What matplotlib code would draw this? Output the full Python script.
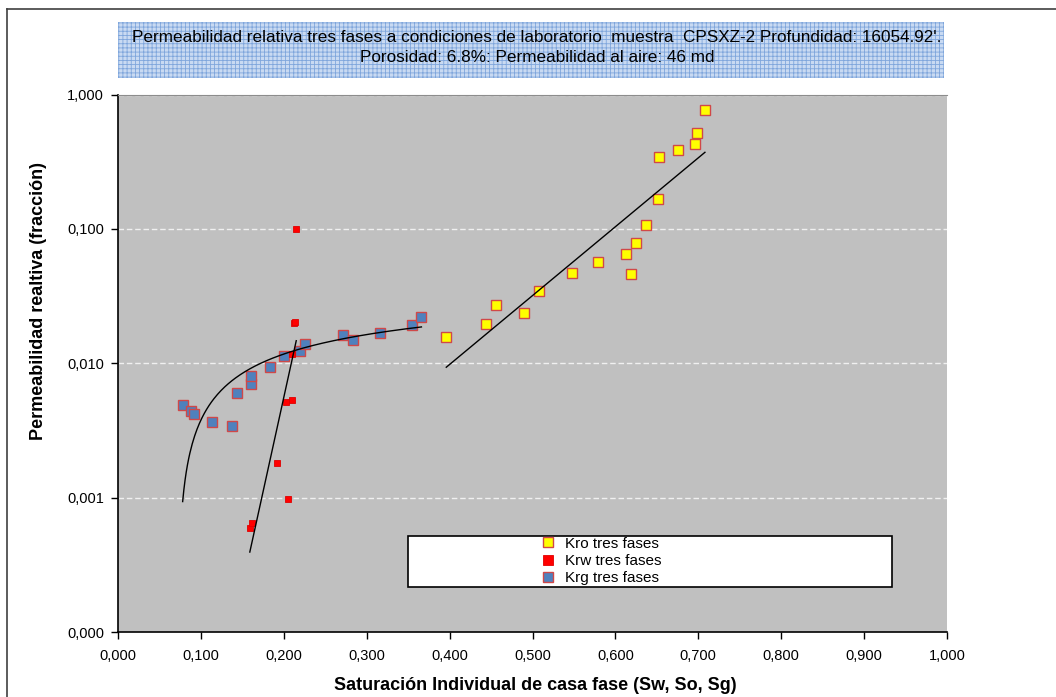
import numpy as np
import matplotlib
matplotlib.use("Agg")
import matplotlib.pyplot as plt
from matplotlib.patches import Rectangle
from matplotlib.lines import Line2D
from matplotlib.ticker import FuncFormatter, FixedLocator

plt.rcParams['font.family'] = ['Liberation Sans', 'DejaVu Sans']
plt.rcParams['hatch.linewidth'] = 0.6

# ----------------------------
# Data
# ----------------------------
# Kro (oil) - yellow
so = [0.396, 0.444, 0.456, 0.490, 0.508, 0.548, 0.579, 0.613, 0.619, 0.625,
      0.637, 0.651, 0.653, 0.676, 0.696, 0.699, 0.708]
kro = [0.0158, 0.0196, 0.0272, 0.0238, 0.0344, 0.0473, 0.0568, 0.0648, 0.0465, 0.0782,
       0.1076, 0.168, 0.341, 0.386, 0.427, 0.520, 0.768]

# Krw (water) - red
sw = [0.159, 0.162, 0.192, 0.205, 0.203, 0.210, 0.210, 0.212, 0.213, 0.215]
krw = [0.000594, 0.000647, 0.00181, 0.000975, 0.00516, 0.00535, 0.01175, 0.01986, 0.0202, 0.0993]

# Krg (gas) - blue
sg = [0.078, 0.088, 0.092, 0.113, 0.137, 0.143, 0.160, 0.160, 0.183, 0.200,
      0.220, 0.226, 0.272, 0.283, 0.316, 0.355, 0.366]
krg = [0.00491, 0.00445, 0.00418, 0.00368, 0.00342, 0.00605, 0.00703, 0.00805, 0.00935, 0.0114,
       0.0124, 0.0139, 0.0163, 0.0149, 0.0168, 0.0193, 0.0222]

x_ticks = [0.0, 0.1, 0.2, 0.3, 0.4, 0.5, 0.6, 0.7, 0.8, 0.9, 1.0]
y_ticks = [0.0001, 0.001, 0.01, 0.1, 1.0]

title_lines = ["Permeabilidad relativa tres fases a condiciones de laboratorio  muestra  CPSXZ-2 Profundidad: 16054.92'.",
               "Porosidad: 6.8%: Permeabilidad al aire: 46 md"]

W, H = 1056, 697
fig = plt.figure(figsize=(W / 100, H / 100), dpi=100)
fig.patch.set_facecolor('white')


def fx(px):
    return px / W


def fy(py):
    return 1 - py / H


# outer frame (only left and top visible in the picture)
fig.add_artist(Line2D([fx(7), fx(7)], [fy(9), 0], color='#404040', lw=1.2))
fig.add_artist(Line2D([fx(7), 1], [fy(9), fy(9)], color='#404040', lw=1.2))

# title box with hatched pattern
fig.add_artist(Rectangle((fx(118), fy(78)), fx(944) - fx(118), fy(21.5) - fy(78),
                         facecolor='#C9DAF2', edgecolor='#7FA6DC', lw=0, hatch='++++'))
fig.text(fx(537), fy(37), title_lines[0], ha='center', va='center', fontsize=12.3)
fig.text(fx(537), fy(58), title_lines[1], ha='center', va='center', fontsize=12.3)

ax = fig.add_axes([fx(118), fy(632.3), fx(947) - fx(118), fy(94.5) - fy(632.3)])
ax.set_facecolor('#C0C0C0')
ax.set_yscale('log')
ax.set_xlim(0, 1)
ax.set_ylim(1e-4, 1)

ax.xaxis.set_major_locator(FixedLocator(x_ticks))
ax.yaxis.set_major_locator(FixedLocator(y_ticks))
ax.yaxis.set_minor_locator(FixedLocator([]))
fmt = FuncFormatter(lambda v, p: f"{v:.3f}".replace('.', ','))
ax.xaxis.set_major_formatter(fmt)
ax.yaxis.set_major_formatter(fmt)
ax.tick_params(axis='both', which='major', direction='out', length=5, width=1,
               labelsize=10.5, colors='black')
ax.tick_params(axis='x', pad=7)
ax.tick_params(axis='y', pad=5)

ax.spines['right'].set_visible(False)
ax.spines['top'].set_color('#8C8C8C')
ax.spines['top'].set_linestyle((0, (3, 1)))
ax.spines['left'].set_linewidth(1.2)
ax.spines['bottom'].set_linewidth(1.2)

ax.yaxis.grid(True, which='major', color='#F0F0F0', linestyle=(0, (4, 2)), lw=1)
ax.xaxis.grid(False)
ax.set_axisbelow(True)

edge = '#D04848'
ax.plot(so, kro, ls='none', marker='s', ms=7.3, mfc='#FFFF00', mec=edge, mew=1, zorder=3)
ax.plot(sg, krg, ls='none', marker='s', ms=7.5, mfc='#4F81BD', mec=edge, mew=1, zorder=3)
ax.plot(sw, krw, ls='none', marker='s', ms=5, mfc='#FF0000', mec='#E00000', mew=0.6, zorder=4)

# trendlines (Excel style fits)
so_a, kro_a = np.array(so), np.array(kro)
c = np.polyfit(so_a, np.log(kro_a), 1)
xx = np.linspace(so_a.min(), so_a.max(), 100)
ax.plot(xx, np.exp(np.polyval(c, xx)), color='black', lw=1, zorder=5)

sw_a, krw_a = np.array(sw), np.array(krw)
c = np.polyfit(sw_a, np.log(krw_a), 1)
xx = np.linspace(sw_a.min(), sw_a.max(), 100)
ax.plot(xx, np.exp(np.polyval(c, xx)), color='black', lw=1, zorder=5)

sg_a, krg_a = np.array(sg), np.array(krg)
c = np.polyfit(np.log(sg_a), krg_a, 1)
xx = np.linspace(sg_a.min(), sg_a.max(), 200)
yy = np.polyval(c, np.log(xx))
ax.plot(xx[yy > 0], yy[yy > 0], color='black', lw=1, zorder=5)

fig.text(fx(535), fy(686), "Saturación Individual de casa fase (Sw, So, Sg)", ha='center', va='center',
         fontsize=13, fontweight='bold')
fig.text(fx(39), fy(301), "Permeabilidad realtiva (fracción)", rotation=90, ha='center', va='center',
         fontsize=13, fontweight='bold')

# legend box
fig.add_artist(Rectangle((fx(408.3), fy(586.7)), fx(891.7) - fx(408.3), fy(536) - fy(586.7),
                         facecolor='white', edgecolor='black', lw=1.2, zorder=6))
handles = [
    Line2D([], [], ls='none', marker='s', ms=6.5, mfc='#FFFF00', mec=edge, mew=1),
    Line2D([], [], ls='none', marker='s', ms=6.5, mfc='#FF0000', mec='#E00000', mew=0.6),
    Line2D([], [], ls='none', marker='s', ms=6.5, mfc='#4F81BD', mec=edge, mew=1),
]
leg = fig.legend(handles, ["Kro tres fases", "Krw tres fases", "Krg tres fases"],
                 loc='upper left', bbox_to_anchor=(fx(540), fy(536.5)), frameon=False,
                 fontsize=11, handlelength=1.0, handletextpad=0.65, labelspacing=0.22,
                 borderpad=0, borderaxespad=0)
leg.set_zorder(7)

fig.savefig("out.png", dpi=100)
